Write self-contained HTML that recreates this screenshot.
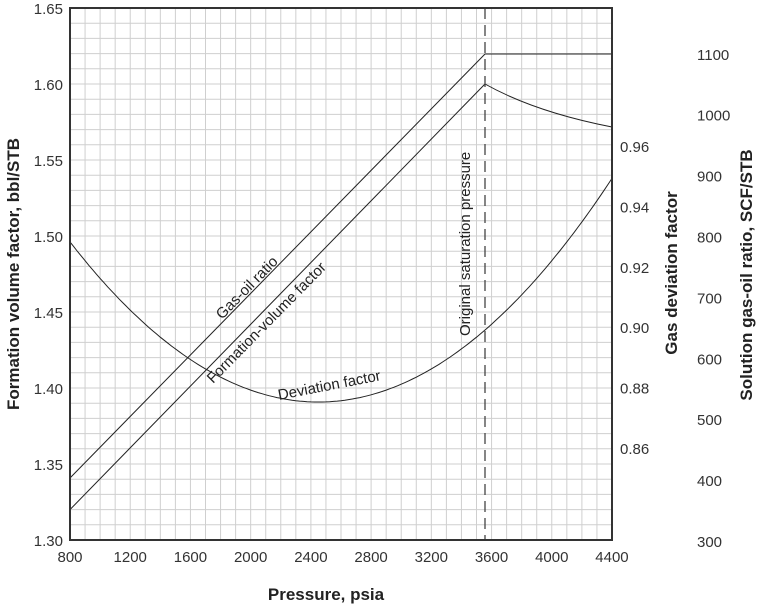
<!DOCTYPE html>
<html><head><style>body{margin:0;background:#fff}svg{display:block}</style></head><body>
<svg width="763" height="606" xmlns="http://www.w3.org/2000/svg" font-family="Liberation Sans, sans-serif">
<g id="grid" stroke="#cfcfcf" stroke-width="1"></g>
<g fill="none" stroke="#222" stroke-width="1">
<polyline id="dev" points=""/>
<line x1="70" y1="509.6" x2="485" y2="84"/>
<path d="M485,84 Q535,112 612,127"/>
<line x1="70" y1="478" x2="485" y2="54"/>
<line x1="485" y1="54" x2="612" y2="54"/>
</g>
<line x1="485" y1="8" x2="485" y2="540" stroke="#444" stroke-width="1.3" stroke-dasharray="11,6"/>
<rect x="70" y="8" width="542" height="532" fill="none" stroke="#333" stroke-width="2"/>
<g font-size="15" fill="#333" text-anchor="end" id="ly"></g>
<g font-size="15" fill="#333" text-anchor="middle" id="lx"></g>
<g font-size="15" fill="#333" id="rz"></g>
<g font-size="15" fill="#333" id="rg"></g>
<g font-size="15" fill="#222">
<text transform="translate(222,320) rotate(-45.5)">Gas-oil ratio</text>
<text transform="translate(213,384) rotate(-45.5)">Formation-volume factor</text>
<text transform="translate(279,400) rotate(-11)">Deviation factor</text>
<text transform="translate(470,336) rotate(-90)">Original saturation pressure</text>
</g>
<g font-size="17" font-weight="bold" fill="#222" text-anchor="middle">
<text x="326" y="600">Pressure, psia</text>
<text transform="translate(19,274) rotate(-90)">Formation volume factor, bbl/STB</text>
<text transform="translate(677,273) rotate(-90)">Gas deviation factor</text>
<text transform="translate(752,275) rotate(-90)">Solution gas-oil ratio, SCF/STB</text>
</g>
<script>
var ns="http://www.w3.org/2000/svg";
function el(p,t,a,txt){var e=document.createElementNS(ns,t);for(var k in a)e.setAttribute(k,a[k]);if(txt!==undefined)e.textContent=txt;document.getElementById(p).appendChild(e);}
for(var i=1;i<36;i++){var x=70+i*542/36;el("grid","line",{x1:x,y1:8,x2:x,y2:540});}
for(var j=1;j<35;j++){var y=8+j*532/35;el("grid","line",{x1:70,y1:y,x2:612,y2:y});}
var pts=[];for(var p=800;p<=4400;p+=25){var x=70+(p-800)*542/3600;var y=402-5.88e-5*(p-2450)*(p-2450);pts.push(x.toFixed(1)+","+y.toFixed(1));}
document.getElementById("dev").setAttribute("points",pts.join(" "));
var lv=["1.30","1.35","1.40","1.45","1.50","1.55","1.60","1.65"];
for(var k=0;k<8;k++){el("ly","text",{x:63,y:546-k*76},lv[k]);}
for(var k=0;k<10;k++){el("lx","text",{x:70+k*60.22,y:562},String(800+400*k));}
var zv=["0.86","0.88","0.90","0.92","0.94","0.96"];
for(var k=0;k<6;k++){el("rz","text",{x:620,y:454-k*60.4},zv[k]);}
for(var k=0;k<9;k++){el("rg","text",{x:697,y:547-k*60.9},String(300+100*k));}
</script>
</svg>
</body></html>
